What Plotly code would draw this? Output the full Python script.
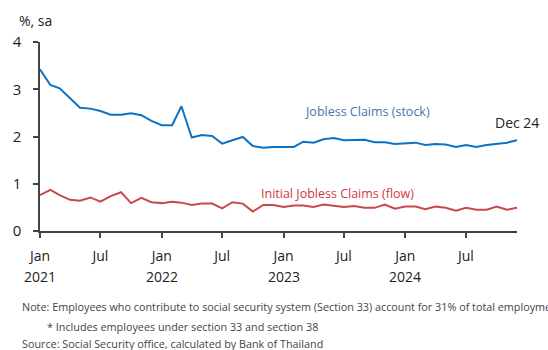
import plotly.graph_objects as go
import pandas as pd

months = pd.date_range("2021-01-01", "2024-12-01", freq="MS")

jobless_stock = [3.42, 3.09, 3.02, 2.81, 2.61, 2.59, 2.54, 2.46, 2.46, 2.49, 2.45, 2.33,
                 2.24, 2.24, 2.64, 1.98, 2.03, 2.01, 1.85, 1.92, 1.99, 1.80, 1.76, 1.78,
                 1.78, 1.78, 1.89, 1.87, 1.94, 1.97, 1.92, 1.92, 1.93, 1.88, 1.88, 1.84,
                 1.86, 1.87, 1.82, 1.84, 1.83, 1.78, 1.82, 1.78, 1.82, 1.85, 1.87, 1.92]

initial_flow = [0.76, 0.87, 0.76, 0.66, 0.64, 0.71, 0.62, 0.74, 0.82, 0.59, 0.70, 0.61,
                0.59, 0.62, 0.60, 0.55, 0.58, 0.58, 0.48, 0.61, 0.58, 0.41, 0.55, 0.55,
                0.51, 0.54, 0.54, 0.51, 0.56, 0.54, 0.51, 0.53, 0.49, 0.49, 0.56, 0.47,
                0.52, 0.52, 0.46, 0.52, 0.49, 0.43, 0.49, 0.45, 0.45, 0.52, 0.45, 0.49]

tick_dates = ["2021-01-01", "2021-07-01", "2022-01-01", "2022-07-01",
              "2023-01-01", "2023-07-01", "2024-01-01", "2024-07-01"]
tick_text = ["Jan", "Jul", "Jan", "Jul", "Jan", "Jul", "Jan", "Jul"]
year_dates = ["2021-01-01", "2022-01-01", "2023-01-01", "2024-01-01"]
year_text = ["2021", "2022", "2023", "2024"]
y_ticks = [0, 1, 2, 3, 4]

FONT = "Open Sans"
BLUE = "#0C72C6"
RED = "#C9484C"

fig = go.Figure()
fig.add_trace(go.Scatter(x=months, y=jobless_stock, mode="lines",
                         line=dict(color=BLUE, width=2), name="Jobless Claims (stock)"))
fig.add_trace(go.Scatter(x=months, y=initial_flow, mode="lines",
                         line=dict(color=RED, width=2), name="Initial Jobless Claims (flow)"))

fig.update_layout(
    width=548, height=350,
    margin=dict(l=40, r=31, t=42, b=119),
    paper_bgcolor="white", plot_bgcolor="white",
    showlegend=False,
    font=dict(family=FONT, color="#222", size=14),
    xaxis=dict(range=["2021-01-01", "2024-12-01"], tickvals=tick_dates, ticktext=tick_text,
               showgrid=False, zeroline=False, showline=True, linecolor="#444", linewidth=1.5,
               ticks="outside", ticklen=5, tickcolor="#444", tickwidth=1.5,
               ticklabelstandoff=6,
               tickfont=dict(size=14, family=FONT, color="#222")),
    yaxis=dict(range=[0, 4], tickvals=y_ticks, showgrid=False, zeroline=False,
               showline=True, linecolor="#444", linewidth=1.5,
               ticks="outside", ticklen=5, tickcolor="#444", tickwidth=1.5,
               ticklabelstandoff=9,
               tickfont=dict(size=15, family=FONT, color="#222")),
)

for d, t in zip(year_dates, year_text):
    fig.add_annotation(x=d, y=-0.24, xref="x", yref="paper", text=t, showarrow=False,
                       font=dict(size=14, family=FONT, color="#222"), xanchor="center", yanchor="middle")

ann = [
    dict(text="%, sa", x=17, y=20, color="#222", size=14, xa="left"),
    dict(text="Jobless Claims (stock)", x=367, y=111, color="#4A72AE", size=12.5, xa="center"),
    dict(text="Dec 24", x=517, y=122, color="#222", size=14, xa="center"),
    dict(text="Initial Jobless Claims (flow)", x=337, y=193, color="#D0383E", size=12.5, xa="center"),
    dict(text="Note: Employees who contribute to social security system (Section 33) account for 31% of total employment",
         x=20, y=306, color="#444", size=10.8, xa="left"),
    dict(text="* Includes employees under section 33 and section 38", x=45, y=326, color="#444", size=10.8, xa="left"),
    dict(text="Source: Social Security office, calculated by Bank of Thailand", x=20, y=343, color="#444", size=10.8, xa="left"),
]
pw, ph = 548, 350
L, R, T, B = 40, 31, 42, 119
for a in ann:
    fx = (a["x"] - L) / (pw - L - R)
    fy = 1 - (a["y"] - T) / (ph - T - B)
    fig.add_annotation(x=fx, y=fy, xref="paper", yref="paper", text=a["text"], showarrow=False,
                       xanchor=a["xa"], yanchor="middle",
                       font=dict(size=a["size"], family=FONT, color=a["color"]))

fig.write_html("out.html")
